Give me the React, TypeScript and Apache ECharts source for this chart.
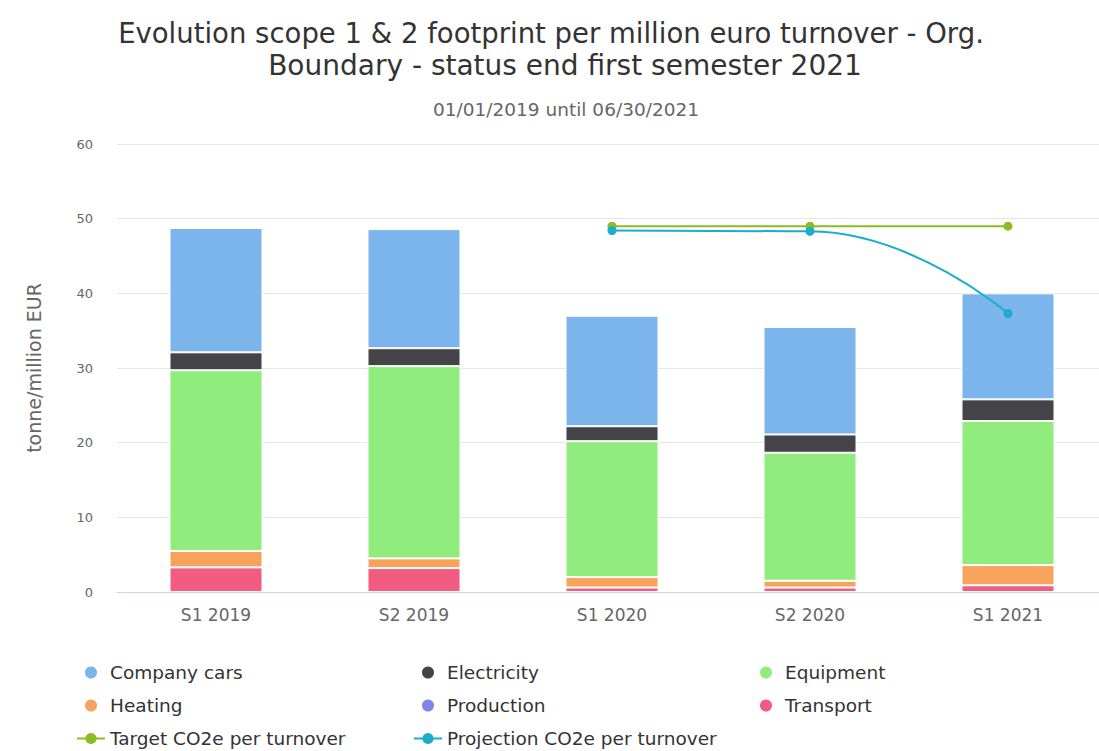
import React, { useEffect, useRef } from "react";
import * as echarts from "echarts";

const categories = ["S1 2019", "S2 2019", "S1 2020", "S2 2020", "S1 2021"];
const companyCars = [16.65, 15.95, 14.8, 14.4, 14.2];
const electricity = [2.4, 2.4, 2.0, 2.45, 2.9];
const equipment = [24.2, 25.75, 18.2, 17.15, 19.3];
const heating = [2.2, 1.3, 1.4, 0.9, 2.7];
const production = [0, 0, 0, 0, 0];
const transport = [3.3, 3.2, 0.6, 0.6, 0.9];
const targetCO2 = [null, null, 49.0, 49.0, 49.0];
const projectionCO2 = [null, null, 48.4, 48.3, 37.3];
const yTicks = { min: 0, max: 60, interval: 10 };

const FONT = "DejaVu Sans";

export default function App() {
  const ref = useRef<HTMLDivElement>(null);
  useEffect(() => {
    if (!ref.current) return;
    const chart = echarts.init(ref.current, undefined, { renderer: "svg" });
    const barStyle = (color: string) => ({
      type: "bar" as const,
      stack: "total",
      barWidth: 93,
      itemStyle: { color, borderColor: "#ffffff", borderWidth: 1 },
    });
    const stackBottomFirst = [
      { name: "Transport", data: transport, color: "#f15c80" },
      { name: "Production", data: production, color: "#8085e9" },
      { name: "Heating", data: heating, color: "#f7a35c" },
      { name: "Equipment", data: equipment, color: "#90ed7d" },
      { name: "Electricity", data: electricity, color: "#434348" },
      { name: "Company cars", data: companyCars, color: "#7cb5ec" },
    ];
    const barNames = new Set(stackBottomFirst.map((s) => s.name));
    const legendLayout: [string, number, number][] = [
      ["Company cars", 0, 0],
      ["Electricity", 1, 0],
      ["Equipment", 2, 0],
      ["Heating", 0, 1],
      ["Production", 1, 1],
      ["Transport", 2, 1],
      ["Target CO2e per turnover", 0, 2],
      ["Projection CO2e per turnover", 1, 2],
    ];
    const colLeft = [76, 413, 751];
    const rowCenter = [673, 706, 739];
    const legends = legendLayout.map(([n, c, r]) => {
      const isBar = barNames.has(n);
      return {
        orient: "horizontal" as const,
        left: colLeft[c] + (isBar ? 7 : 0),
        top: rowCenter[r] - 10,
        padding: 0,
        itemWidth: 28,
        itemHeight: 14,
        textStyle: { fontFamily: FONT, fontSize: 18.5, color: "#333333" },
        selectedMode: false,
        data: [isBar ? { name: n, icon: "circle" } : { name: n }],
      };
    });
    chart.setOption({
      animation: false,
      backgroundColor: "#ffffff",
      textStyle: { fontFamily: FONT },
      title: [
        {
          text: "Evolution scope 1 & 2 footprint per million euro turnover - Org.",
          left: 546,
          textAlign: "center",
          top: 14,
          textStyle: { fontFamily: FONT, fontSize: 27.5, fontWeight: "normal", color: "#333333" },
        },
        {
          text: "Boundary - status end first semester 2021",
          left: 560,
          textAlign: "center",
          top: 46,
          textStyle: { fontFamily: FONT, fontSize: 28, fontWeight: "normal", color: "#333333" },
        },
        {
          text: "01/01/2019 until 06/30/2021",
          left: 561,
          textAlign: "center",
          top: 95,
          textStyle: { fontFamily: FONT, fontSize: 18.5, fontWeight: "normal", color: "#666666" },
        },
      ],
      legend: legends,
      grid: { left: 117, top: 144, height: 448, width: 990, containLabel: false, outerBoundsMode: "none" },
      xAxis: {
        type: "category",
        data: categories,
        axisLine: { lineStyle: { color: "#ccd6eb" } },
        axisTick: { show: false },
        axisLabel: { color: "#666666", fontSize: 17, fontFamily: FONT, margin: 14 },
      },
      yAxis: {
        type: "value",
        min: yTicks.min,
        max: yTicks.max,
        interval: yTicks.interval,
        name: "tonne/million EUR",
        nameLocation: "middle",
        nameRotate: 90,
        nameGap: 74,
        nameTextStyle: { color: "#666666", fontSize: 19, fontFamily: FONT },
        axisLabel: { color: "#666666", fontSize: 13, fontFamily: FONT, margin: 24 },
        splitLine: { lineStyle: { color: "#e6e6e6" } },
        axisLine: { show: false },
        axisTick: { show: false },
      },
      series: [
        ...stackBottomFirst.map((s) => ({ ...barStyle(s.color), name: s.name, data: s.data })),
        {
          name: "Target CO2e per turnover",
          type: "line",
          data: targetCO2,
          smooth: true,
          symbol: "circle",
          symbolSize: 9,
          lineStyle: { color: "#8bbc21", width: 2 },
          itemStyle: { color: "#8bbc21" },
          z: 5,
        },
        {
          name: "Projection CO2e per turnover",
          type: "line",
          data: projectionCO2,
          smooth: true,
          symbol: "circle",
          symbolSize: 9,
          lineStyle: { color: "#1aadce", width: 2 },
          itemStyle: { color: "#1aadce" },
          z: 6,
        },
      ],
    });
    return () => chart.dispose();
  }, []);
  return (
    <div
      ref={ref}
      style={{ width: 1099, height: 751, position: "fixed", left: 0, top: 0, overflow: "hidden" }}
    />
  );
}
